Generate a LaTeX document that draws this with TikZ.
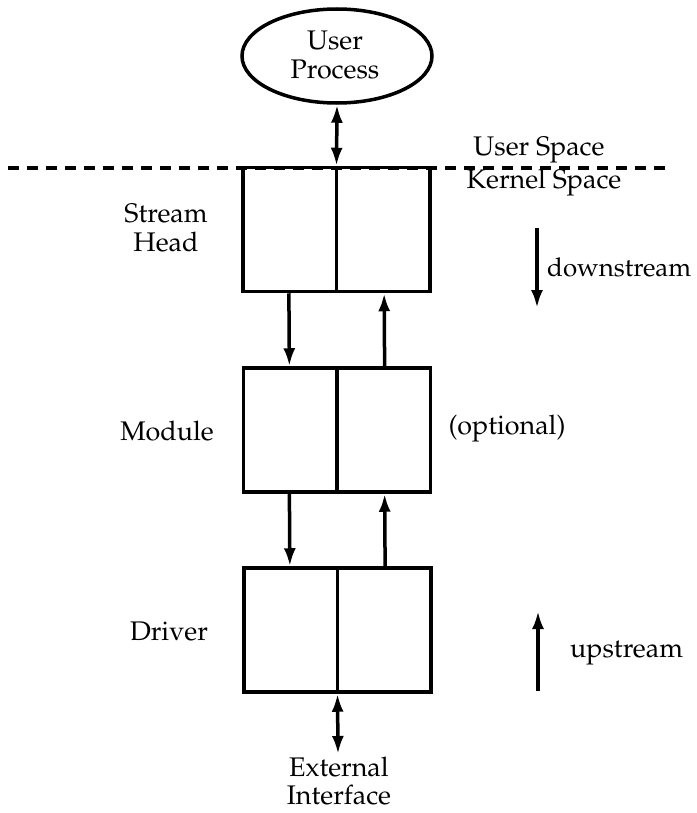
\documentclass[tikz,border=0pt]{standalone}
\usepackage[T1]{fontenc}
\usepackage{mathpazo}
\usetikzlibrary{arrows.meta,shapes.geometric,calc}
\begin{document}
\begin{tikzpicture}[x=1bp,y=-1bp,
  lbl/.style={font=\fontsize{27}{29}\selectfont, align=center, inner sep=0pt},
  qbox/.style={draw, line width=3.5bp, minimum width=187bp, minimum height=124bp, inner sep=0pt},
  conn/.style={line width=3.5bp, -{Latex[length=18bp,width=12bp]}},
  dconn/.style={line width=3.5bp, {Latex[length=18bp,width=12bp]}-{Latex[length=18bp,width=12bp]}}
]
\useasboundingbox (0,0) rectangle (697,813);
% user process
\node[ellipse, draw, line width=3.5bp, minimum width=190bp, minimum height=94bp, inner sep=0pt] (up) at (337,56) {};
\node[lbl] (uptext) at (335,55) {User\\Process};
% boxes
\node[qbox] (sh) at (336.5,229.5) {};
\node[qbox] (mod) at (337,430) {};
\node[qbox] (drv) at (337.5,630) {};
\draw[line width=3.5bp] (sh.north) -- (sh.south);
\draw[line width=3.5bp] (mod.north) -- (mod.south);
\draw[line width=3.5bp] (drv.north) -- (drv.south);
% dashed line
\coordinate (dl) at (8,168);
\coordinate (dr) at (670,168);
\draw[line width=3.5bp, dash pattern=on 11bp off 8bp] (dl) -- (dr);
% connectors
\draw[dconn] (up.south) -- (sh.north);
\draw[conn] ($(sh.south west)!0.25!(sh.south east)$) -- ($(mod.north west)!0.25!(mod.north east)$);
\draw[conn] ($(mod.north west)!0.75!(mod.north east)$) -- ($(sh.south west)!0.75!(sh.south east)$);
\draw[conn] ($(mod.south west)!0.25!(mod.south east)$) -- ($(drv.north west)!0.25!(drv.north east)$);
\draw[conn] ($(drv.north west)!0.75!(drv.north east)$) -- ($(mod.south west)!0.75!(mod.south east)$);
\node[lbl] (ext) at (339,781) {External\\Interface};
\coordinate (extt) at (338,754);
\draw[dconn] (drv.south) -- (extt);
% labels
\node[lbl] (shl) at (166,228) {Stream\\Head};
\node[lbl] (modl) at (167,431) {Module};
\node[lbl] (drvl) at (169,631) {Driver};
\node[lbl] (opt) at (507,429) {(optional)};
\node[lbl] (us) at (539,150) {User Space};
\node[lbl] (ks) at (544,183) {Kernel Space};
% downstream / upstream
\coordinate (dsa) at (537,228);
\coordinate (dsb) at (537,308);
\draw[conn] (dsa) -- (dsb);
\node[lbl, font=\fontsize{26}{29}\selectfont, anchor=west] (ds) at (547,267) {downstream};
\coordinate (usa) at (538,691);
\coordinate (usb) at (538,611);
\draw[conn] (usa) -- (usb);
\node[lbl, anchor=west] (ups) at (570,653) {upstream};
\end{tikzpicture}
\end{document}
